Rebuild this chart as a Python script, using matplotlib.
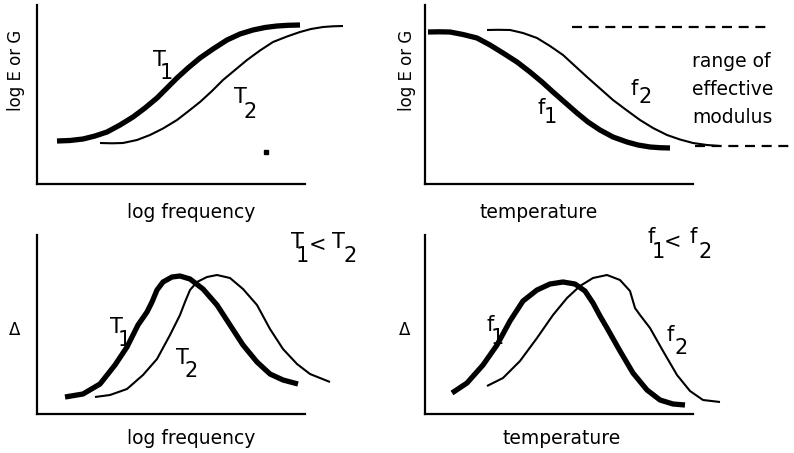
import matplotlib
matplotlib.use("Agg")
import matplotlib.pyplot as plt

plt.rcParams['font.family'] = ['DejaVu Sans']

# ---- data (arbitrary units, origin at axis corner) ----
# top-left: log E vs log frequency
tl_T1_x = [2.0, 3.3, 4.6, 5.8, 7.0, 8.3, 9.6, 10.8, 12.0, 13.0, 14.0, 15.1, 16.3,
           17.6, 19.0, 20.3, 21.6, 22.8, 24.0, 25.1, 26.3]
tl_T1_y = [4.3, 4.35, 4.5, 4.8, 5.2, 5.9, 6.7, 7.6, 8.6, 9.6, 10.6, 11.6, 12.6,
           13.5, 14.4, 15.0, 15.4, 15.65, 15.8, 15.87, 15.9]
tl_T2_x = [6.3, 7.5, 8.6, 10.0, 11.3, 12.6, 14.0, 15.1, 16.3, 17.5, 18.6, 19.8, 21.0,
           22.3, 23.6, 25.0, 26.3, 27.4, 28.6, 29.6, 30.6]
tl_T2_y = [4.1, 4.07, 4.1, 4.4, 4.9, 5.55, 6.4, 7.25, 8.2, 9.3, 10.4, 11.4, 12.4,
           13.35, 14.2, 14.75, 15.2, 15.5, 15.7, 15.77, 15.8]
tl_dot = (22.9, 3.2)

# top-right: log E vs temperature
tr_f1_x = [0.3, 1.4, 2.5, 3.8, 5.2, 6.5, 7.8, 9.2, 10.5, 11.7, 12.8, 14.0, 15.2,
           16.3, 17.5, 18.8, 20.2, 21.3, 22.5, 23.5, 24.5]
tr_f1_y = [15.2, 15.22, 15.2, 14.95, 14.6, 13.9, 13.1, 12.2, 11.2, 10.2, 9.2, 8.15, 7.1,
           6.2, 5.4, 4.7, 4.2, 3.9, 3.7, 3.63, 3.6]
tr_f2_x = [6.2, 7.3, 8.5, 9.8, 11.2, 12.5, 13.8, 15.0, 16.2, 17.5, 18.8, 20.2, 21.5,
           22.8, 24.2, 25.5, 26.8, 28.2, 29.5]
tr_f2_y = [15.4, 15.42, 15.4, 15.1, 14.6, 13.8, 12.9, 11.8, 10.7, 9.55, 8.4, 7.35, 6.4,
           5.6, 4.9, 4.45, 4.1, 3.9, 3.8]
range_top = 15.7
range_top_x = [14.7, 34.3]
range_bottom = 3.8
range_bottom_x = [27.0, 36.5]

# bottom-left: Delta vs log frequency
bl_T1_x = [2.8, 4.6, 6.3, 7.8, 9.0, 10.1, 11.0, 11.5, 12.0, 12.6, 13.5, 14.3, 15.3,
           16.6, 18.0, 19.3, 20.6, 22.0, 23.3, 24.6, 26.1]
bl_T1_y = [1.7, 2.0, 3.0, 4.9, 6.7, 8.9, 10.2, 11.2, 12.4, 13.2, 13.7, 13.8, 13.5,
           12.5, 10.9, 8.9, 6.9, 5.2, 4.0, 3.4, 3.0]
bl_T2_x = [5.8, 7.3, 9.0, 10.6, 12.0, 13.3, 14.3, 14.8, 15.3, 16.0, 17.0, 18.0, 19.3,
           20.6, 22.0, 23.3, 24.6, 26.0, 27.3, 29.3]
bl_T2_y = [1.7, 1.9, 2.5, 3.9, 5.5, 7.9, 9.9, 11.2, 12.4, 13.2, 13.7, 13.9, 13.6,
           12.5, 10.9, 8.5, 6.5, 5.0, 4.0, 3.2]

# bottom-right: Delta vs temperature
br_f1_x = [2.7, 4.2, 5.8, 7.2, 8.5, 9.8, 11.2, 12.5, 13.8, 15.0, 16.0, 16.8, 17.5,
           18.2, 19.5, 20.8, 22.2, 23.5, 24.8, 26.0]
br_f1_y = [2.1, 3.1, 4.9, 6.9, 9.3, 11.3, 12.4, 13.0, 13.2, 13.0, 12.3, 11.1, 9.8,
           8.6, 6.3, 4.1, 2.4, 1.4, 1.0, 0.9]
br_f2_x = [6.2, 7.8, 9.5, 11.2, 12.8, 14.2, 15.5, 16.8, 18.2, 19.5, 20.5, 21.0, 21.5,
           22.5, 23.8, 25.2, 26.5, 27.8, 29.5]
br_f2_y = [2.8, 3.6, 5.3, 7.6, 9.9, 11.6, 12.8, 13.6, 13.9, 13.4, 12.3, 10.6, 9.9,
           8.6, 6.3, 3.9, 2.3, 1.4, 1.2]

XMAX, YMAX = 26.8, 17.9
THICK, THIN = 3.8, 1.5
FS_LAB = 13.5
FS_SYM = 15
FS_Y = 12

W, H = 794, 453
fig = plt.figure(figsize=(W / 100, H / 100), dpi=100)


def make_ax(x0, y0):
    ax = fig.add_axes([x0 / W, (H - y0) / H, 268 / W, 179 / H])
    ax.set_xlim(0, XMAX)
    ax.set_ylim(0, YMAX)
    for s in ['top', 'right']:
        ax.spines[s].set_visible(False)
    for s in ['left', 'bottom']:
        ax.spines[s].set_linewidth(1.6)
    ax.set_xticks([])
    ax.set_yticks([])
    ax.patch.set_visible(False)
    return ax


def sym(ax, x, y, main, sub, dx, dy):
    ax.text(x, y, main, fontsize=FS_SYM, ha='center', va='center')
    ax.text(x + dx, y - dy, sub, fontsize=FS_SYM, ha='center', va='center')


kw = dict(color='black', solid_capstyle='butt', solid_joinstyle='round', clip_on=False)

# top-left
ax = make_ax(37, 184)
ax.plot(tl_T1_x, tl_T1_y, lw=THICK, **kw)
ax.plot(tl_T2_x, tl_T2_y, lw=THIN, **kw)
ax.plot([tl_dot[0]], [tl_dot[1]], 's', color='black', ms=2.5, clip_on=False)
sym(ax, 12.2, 12.4, 'T', '1', 0.7, 1.3)
sym(ax, 20.3, 8.7, 'T', '2', 1.0, 1.5)
ax.text(15.4, -2.8, 'log frequency', fontsize=FS_LAB, ha='center', va='center')
ax.text(-2.1, 11.4, 'log E or G', fontsize=FS_Y, rotation=90, ha='center', va='center')

# top-right
ax = make_ax(425, 184)
ax.plot(tr_f1_x, tr_f1_y, lw=THICK, **kw)
ax.plot(tr_f2_x, tr_f2_y, lw=THIN, **kw)
ax.plot(range_top_x, [range_top, range_top], color='black', lw=1.6,
        linestyle=(0, (4.5, 3)), clip_on=False)
ax.plot(range_bottom_x, [range_bottom, range_bottom], color='black', lw=1.6,
        linestyle=(0, (4.5, 3)), clip_on=False)
sym(ax, 11.6, 7.6, 'f', '1', 0.9, 0.9)
sym(ax, 20.9, 9.5, 'f', '2', 1.15, 0.8)
for txt, yy in zip(['range of', 'effective', 'modulus'], [11.7, 8.9, 6.1]):
    ax.text(26.7, yy, txt, fontsize=FS_LAB, ha='left', va='baseline')
ax.text(11.4, -2.8, 'temperature', fontsize=FS_LAB, ha='center', va='center')
ax.text(-1.8, 11.4, 'log E or G', fontsize=FS_Y, rotation=90, ha='center', va='center')

# bottom-left
ax = make_ax(37, 414)
ax.plot(bl_T1_x, bl_T1_y, lw=THICK, **kw)
ax.plot(bl_T2_x, bl_T2_y, lw=THIN, **kw)
sym(ax, 7.9, 8.7, 'T', '1', 0.8, 1.3)
sym(ax, 14.5, 5.6, 'T', '2', 0.9, 1.3)
sym(ax, 26.0, 17.2, 'T', '1', 0.5, 1.4)
ax.text(28.0, 16.9, '<', fontsize=FS_SYM, ha='center', va='center')
sym(ax, 30.1, 17.2, 'T', '2', 1.2, 1.4)
ax.text(-2.2, 8.4, 'Δ', fontsize=FS_Y, ha='center', va='center')
ax.text(15.4, -2.4, 'log frequency', fontsize=FS_LAB, ha='center', va='center')

# bottom-right
ax = make_ax(425, 414)
ax.plot(br_f1_x, br_f1_y, lw=THICK, **kw)
ax.plot(br_f2_x, br_f2_y, lw=THIN, **kw)
sym(ax, 6.5, 8.9, 'f', '1', 0.7, 1.3)
sym(ax, 24.5, 7.9, 'f', '2', 1.1, 1.3)
sym(ax, 22.6, 17.7, 'f', '1', 0.7, 1.5)
ax.text(24.8, 17.2, '<', fontsize=FS_SYM, ha='center', va='center')
sym(ax, 26.8, 17.7, 'f', '2', 1.2, 1.5)
ax.text(-2.0, 8.4, 'Δ', fontsize=FS_Y, ha='center', va='center')
ax.text(13.7, -2.4, 'temperature', fontsize=FS_LAB, ha='center', va='center')

fig.savefig('out.png', dpi=100)
